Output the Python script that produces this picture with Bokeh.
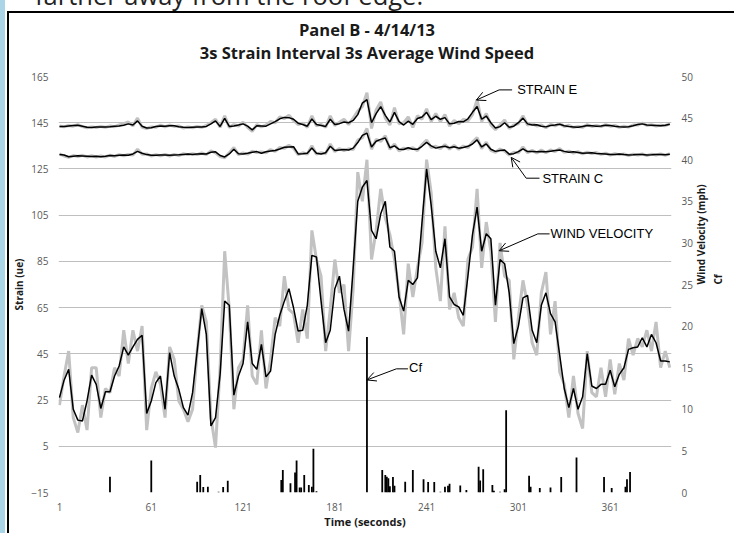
import numpy as np
from bokeh.plotting import figure
from bokeh.layouts import column
from bokeh.models import (Range1d, LinearAxis, FixedTicker, Label, Arrow, OpenHead,
                          ColumnDataSource, Div)
from bokeh.embed import file_html
from bokeh.resources import INLINE

# ---------------- data ----------------
time_s = list(range(1, 401, 3))

wind_avg = [11.4, 13.5, 14.8, 10.0, 8.7, 8.6, 11.0, 14.1, 13.0, 10.1,
            12.1, 12.1, 14.0, 15.2, 17.5, 16.5, 17.5, 18.4, 18.9, 9.5,
            11.0, 13.2, 14.0, 10.0, 16.8, 14.0, 12.4, 10.2, 9.3, 12.0,
            17.0, 22.1, 19.0, 8.0, 9.0, 14.2, 23.0, 22.5, 11.7, 14.0,
            15.5, 20.5, 15.5, 14.8, 17.8, 13.9, 14.6, 19.0, 21.3, 23.0,
            24.5, 22.2, 19.4, 19.5, 22.5, 28.5, 28.3, 23.0, 18.0, 19.5,
            24.5, 26.0, 22.0, 19.4, 27.0, 35.0, 36.7, 37.5, 31.5, 30.5,
            33.5, 35.0, 29.5, 29.0, 23.5, 21.8, 25.5, 25.0, 25.8, 32.5,
            38.9, 34.5, 29.0, 27.0, 30.5, 23.5, 22.6, 22.3, 21.3, 26.0,
            31.0, 34.3, 29.0, 31.1, 30.5, 22.5, 28.0, 27.5, 24.0, 17.9,
            20.0, 23.4, 23.7, 19.5, 18.0, 22.5, 24.0, 21.5, 20.5, 16.5,
            12.5, 10.2, 12.5, 10.0, 11.5, 16.7, 12.8, 12.5, 13.0, 13.0,
            14.7, 12.7, 14.2, 15.0, 17.2, 17.4, 17.5, 18.6, 17.5, 19.0,
            18.0, 15.8, 15.8, 15.7]

wind_raw = [10.5, 14.0, 17.0, 9.0, 7.2, 10.5, 7.5, 15.0, 15.0, 9.0,
            12.5, 12.0, 15.0, 14.0, 19.5, 15.5, 19.5, 17.0, 20.0, 7.5,
            12.5, 14.5, 13.0, 9.0, 17.5, 16.0, 11.0, 10.0, 8.5, 10.0,
            17.0, 22.5, 20.5, 9.0, 5.4, 15.0, 29.0, 22.0, 10.0, 15.0,
            16.0, 22.5, 14.0, 13.0, 19.5, 12.5, 16.0, 21.0, 20.0, 26.0,
            22.0, 21.5, 18.0, 22.0, 18.5, 31.5, 28.0, 26.0, 17.0, 22.0,
            28.0, 24.0, 25.0, 17.0, 24.5, 38.5, 35.0, 40.0, 28.0, 31.5,
            36.5, 33.0, 31.0, 28.0, 24.0, 19.0, 27.5, 23.5, 27.0, 30.0,
            40.0, 36.0, 27.0, 23.0, 32.0, 22.0, 24.0, 21.0, 20.0, 28.0,
            29.5, 36.5, 27.0, 32.5, 29.0, 20.5, 30.0, 26.0, 25.5, 16.0,
            21.0, 25.5, 22.5, 18.0, 16.5, 24.0, 26.5, 19.0, 23.0, 14.5,
            13.0, 9.0, 14.0, 9.5, 7.7, 17.0, 12.0, 11.5, 15.0, 11.5,
            16.0, 11.8, 15.5, 13.5, 18.5, 16.5, 18.5, 17.5, 19.5, 17.0,
            20.5, 15.0, 17.0, 15.0]

strain_e_avg = [143.4, 143.4, 143.6, 143.8, 143.9, 143.5, 143.0, 142.9, 143.1, 143.2,
                143.2, 143.3, 143.5, 143.6, 143.9, 144.5, 144.0, 145.8, 143.5, 142.7,
                142.8, 143.4, 143.6, 143.5, 143.7, 143.7, 143.3, 143.0, 142.9, 143.0,
                143.1, 143.2, 143.4, 144.5, 145.8, 143.4, 146.9, 143.4, 143.6, 144.0,
                144.5, 143.5, 141.9, 143.7, 143.6, 143.5, 144.5, 145.5, 146.7, 147.3,
                147.2, 146.5, 144.8, 144.2, 143.5, 146.6, 144.2, 143.8, 143.4, 146.5,
                144.2, 144.6, 145.3, 145.0, 146.0, 148.5, 153.5, 155.0, 145.0, 148.9,
                152.0, 148.2, 145.3, 149.5, 145.5, 144.0, 145.7, 144.3, 146.8, 147.5,
                149.5, 146.3, 147.8, 146.5, 147.2, 144.5, 144.8, 145.5, 145.4, 146.7,
                149.5, 152.0, 146.5, 147.9, 145.0, 142.7, 143.3, 145.0, 143.0, 143.5,
                145.0, 147.0, 144.5, 144.0, 144.1, 143.5, 143.2, 143.8, 144.0, 144.3,
                143.7, 143.4, 143.2, 143.0, 143.4, 143.8, 143.7, 143.5, 143.6, 143.9,
                143.8, 143.5, 143.3, 143.2, 143.3, 143.7, 144.2, 144.5, 144.0, 143.9,
                143.8, 143.7, 143.9, 144.3]

strain_e_raw = [143.6, 143.2, 143.8, 143.5, 144.2, 143.3, 142.8, 143.2, 142.9, 143.4,
                143.0, 143.6, 143.3, 144.0, 144.6, 145.3, 143.6, 147.0, 143.0, 142.5,
                143.2, 143.0, 144.0, 143.2, 144.0, 143.4, 143.6, 142.7, 143.2, 142.8,
                143.4, 143.0, 143.8, 145.0, 146.5, 143.0, 148.0, 143.0, 144.2, 143.6,
                145.2, 143.0, 141.2, 144.2, 143.2, 144.0, 145.5, 145.0, 147.5, 146.8,
                148.2, 146.0, 144.2, 144.8, 143.0, 148.0, 143.6, 144.3, 143.0, 148.0,
                143.8, 145.2, 146.5, 144.2, 147.0, 150.0, 152.0, 158.0, 142.5, 150.5,
                154.0, 147.0, 144.0, 151.5, 144.5, 145.0, 147.5, 143.0, 148.0, 146.5,
                151.0, 145.5, 149.0, 145.5, 148.5, 143.5, 146.0, 144.5, 146.5, 145.8,
                148.5, 155.0, 145.5, 149.0, 144.0, 142.0, 144.0, 146.2, 142.5, 144.0,
                144.5, 148.0, 144.0, 144.6, 143.6, 144.0, 142.8, 144.3, 143.6, 144.8,
                143.3, 143.9, 142.9, 143.4, 143.0, 144.2, 143.4, 143.8, 143.3, 144.2,
                143.5, 143.8, 143.0, 143.5, 143.1, 144.0, 144.0, 144.8, 143.8, 144.1,
                143.6, 143.9, 143.7, 144.5]

strain_c_avg = [131.2, 131.0, 130.3, 130.5, 130.7, 130.6, 130.5, 130.4, 130.5, 130.3,
                130.5, 130.8, 130.7, 130.9, 131.0, 130.9, 131.5, 132.6, 131.8, 131.2,
                130.9, 130.9, 131.0, 131.0, 130.9, 131.0, 131.1, 131.3, 131.5, 131.3,
                131.5, 131.6, 131.5, 132.2, 132.4, 130.8, 130.2, 131.5, 133.5, 131.6,
                131.5, 131.8, 132.2, 132.5, 131.8, 132.4, 132.8, 133.0, 133.6, 134.4,
                134.5, 134.6, 131.5, 131.6, 131.8, 134.1, 131.8, 131.5, 132.0, 134.8,
                133.0, 133.2, 133.4, 133.2, 134.0, 136.4, 139.5, 140.5, 134.5, 137.0,
                137.8, 138.4, 134.2, 135.0, 133.5, 133.4, 134.2, 133.5, 133.5, 134.8,
                136.5, 135.0, 134.0, 134.5, 134.8, 134.2, 134.6, 134.0, 134.3, 134.8,
                135.8, 137.6, 134.5, 135.8, 133.5, 132.6, 133.0, 133.2, 131.4, 131.6,
                132.5, 133.7, 132.5, 132.6, 132.4, 132.6, 132.4, 132.7, 133.0, 133.2,
                132.6, 132.2, 132.4, 132.1, 131.8, 131.9, 132.0, 131.7, 131.6, 131.5,
                131.2, 131.3, 131.5, 131.2, 131.0, 131.1, 131.3, 131.2, 131.0, 131.1,
                131.3, 131.2, 131.1, 131.4]

strain_c_raw = [131.5, 130.6, 130.0, 130.8, 130.4, 130.9, 130.2, 130.7, 130.2, 130.6,
                130.2, 131.0, 130.4, 131.2, 130.7, 131.3, 131.0, 133.5, 131.4, 131.5,
                130.6, 131.2, 130.7, 131.3, 130.6, 131.3, 130.8, 131.6, 131.2, 131.6,
                131.2, 131.9, 131.2, 132.8, 132.0, 130.4, 129.8, 132.0, 134.3, 131.2,
                131.9, 131.4, 132.7, 132.1, 132.3, 132.0, 133.4, 132.6, 134.3, 133.9,
                135.2, 134.0, 131.2, 132.0, 131.4, 135.0, 131.4, 132.0, 131.6, 135.8,
                132.5, 133.8, 132.9, 133.7, 133.4, 137.5, 138.5, 142.5, 133.5, 137.8,
                136.9, 139.4, 133.5, 135.8, 132.8, 134.0, 133.6, 134.2, 132.9, 135.5,
                137.5, 134.3, 134.8, 133.8, 135.5, 133.6, 135.2, 133.5, 134.9, 134.2,
                136.6, 138.6, 133.8, 136.6, 133.0, 132.2, 133.6, 132.7, 131.0, 132.2,
                132.0, 134.5, 132.0, 133.1, 131.9, 133.2, 132.0, 133.2, 132.5, 133.8,
                132.2, 132.7, 131.9, 132.5, 131.5, 132.3, 131.7, 132.1, 131.3, 131.8,
                131.0, 131.6, 131.2, 131.5, 130.8, 131.4, 131.0, 131.5, 130.8, 131.4,
                131.0, 131.5, 130.9, 131.6]

cf_time = [34, 61, 91, 93, 95, 98, 105, 108, 111,
           146, 147, 152, 155, 156, 158, 159, 161, 164, 166,
           167, 169, 202, 212, 214, 215, 216, 217, 219, 220,
           227, 232, 239, 242, 246, 250, 253, 255, 256, 263,
           267, 275, 276, 278, 284, 285, 289, 292, 293, 308,
           309, 315, 322, 329, 339, 357, 362, 371, 372, 374]
cf_value = [1.9, 3.85, 1.3, 2.1, 0.65, 0.7, 0.1, 0.65, 1.4,
            1.5, 2.7, 1.1, 2.4, 3.85, 0.6, 0.6, 2.1, 0.9, 0.7,
            5.25, 0.15, 18.7, 2.7, 2.1, 1.9, 1.7, 0.75, 1.85, 0.8,
            1.3, 2.7, 1.6, 1.25, 1.25, 0.1, 0.7, 0.8, 1.05, 0.85,
            0.3, 3.1, 1.45, 2.8, 0.9, 0.2, 0.1, 0.4, 9.9, 2.0,
            0.7, 0.55, 0.6, 1.85, 4.2, 1.85, 0.55, 0.7, 1.6, 2.45]

x_ticks = [1, 61, 121, 181, 241, 301, 361]
strain_ticks = [-15, 5, 25, 45, 65, 85, 105, 125, 145, 165]
wind_ticks = [0, 5, 10, 15, 20, 25, 30, 35, 40, 45, 50]

title_text = "Panel B - 4/14/13"
subtitle_text = "3s Strain Interval 3s Average Wind Speed"
top_text = "farther away from the roof edge."

# ---------------- figure ----------------
p = figure(width=725, height=466, output_backend="svg", toolbar_location=None,
           x_range=Range1d(0.35, 401.1), y_range=Range1d(-15, 165),
           min_border_left=49, min_border_right=62, min_border_top=9, min_border_bottom=41)
p.margin = (0, 0, 0, 9)
p.extra_y_ranges = {"wind": Range1d(0, 50)}
p.outline_line_color = None
p.background_fill_color = "white"
p.border_fill_color = "white"

tick_font = "Open Sans"
tick_color = "#595959"
title_color = "#1a1a1a"

p.xaxis.ticker = FixedTicker(ticks=x_ticks)
p.yaxis.ticker = FixedTicker(ticks=strain_ticks)
wind_axis = LinearAxis(y_range_name="wind", ticker=FixedTicker(ticks=wind_ticks))
p.add_layout(wind_axis, "right")
cf_axis = LinearAxis(y_range_name="wind", ticker=FixedTicker(ticks=[]))
p.add_layout(cf_axis, "right")

for ax in [p.xaxis[0], p.yaxis[0], wind_axis, cf_axis]:
    ax.axis_line_color = None
    ax.major_tick_line_color = None
    ax.minor_tick_line_color = None
    ax.major_tick_out = 0
    ax.major_tick_in = 0
    ax.minor_tick_out = 0
    ax.minor_tick_in = 0
    ax.major_label_text_font = tick_font
    ax.major_label_text_font_size = "10px"
    ax.major_label_text_color = tick_color
    ax.axis_label_text_font = tick_font
    ax.axis_label_text_font_style = "bold"
    ax.axis_label_text_color = title_color
p.xaxis.major_label_standoff = 10
p.yaxis[0].major_label_standoff = 10
wind_axis.major_label_standoff = 10
cf_axis.major_label_standoff = 0

p.xaxis.axis_label = "Time (seconds)"
p.xaxis.axis_label_text_font_size = "11px"
p.xaxis.axis_label_standoff = 0

p.yaxis[0].axis_label = "Strain (ue)"
p.yaxis[0].axis_label_text_font_size = "10px"
p.yaxis[0].axis_label_standoff = 2

wind_axis.axis_label = "Wind Velocity (mph)"
wind_axis.axis_label_text_font_size = "10px"
wind_axis.axis_label_standoff = 5
cf_axis.axis_label = "Cf"
cf_axis.axis_label_text_font_size = "10px"
cf_axis.axis_label_standoff = 0
for ax in [wind_axis, cf_axis]:
    try:
        ax.axis_label_orientation = np.pi / 2
    except Exception:
        pass

p.xgrid.visible = False
p.ygrid.ticker = FixedTicker(ticks=strain_ticks)
p.ygrid.grid_line_color = "#bfbfbf"
p.ygrid.grid_line_width = 1

raw_color = "#c2c2c2"
p.line(time_s, wind_raw, y_range_name="wind", line_color=raw_color, line_width=3)
p.line(time_s, strain_e_raw, line_color=raw_color, line_width=3)
p.line(time_s, strain_c_raw, line_color=raw_color, line_width=3)
p.line(time_s, wind_avg, y_range_name="wind", line_color="black", line_width=1.5)
p.line(time_s, strain_e_avg, line_color="black", line_width=1.5)
p.line(time_s, strain_c_avg, line_color="black", line_width=1.5)

cf_src = ColumnDataSource(dict(t=cf_time, v=cf_value, base=[0] * len(cf_time)))
p.segment(x0="t", y0="base", x1="t", y1="v", source=cf_src, y_range_name="wind",
          line_color="black", line_width=1.8)

# ---------------- call-outs ----------------
def callout(text, tip, bend, end, tx, ty):
    p.line([end[0], bend[0]], [end[1], bend[1]], line_color="black", line_width=1)
    p.add_layout(Arrow(end=OpenHead(size=9, line_width=1, line_color="black"),
                       x_start=bend[0], y_start=bend[1], x_end=tip[0], y_end=tip[1],
                       line_color="black", line_width=1))
    p.add_layout(Label(x=tx, y=ty, text=text, text_font="Liberation Sans",
                       text_font_size="13px", text_baseline="middle", text_align="left",
                       text_color="black"))

callout("STRAIN E", (273.5, 154.8), (288.4, 159.2), (296.9, 159.2), 300.2, 159.2)
callout("STRAIN C", (296.3, 130.0), (306.1, 121.0), (314.8, 121.0), 316.7, 120.8)
callout("WIND VELOCITY", (288.4, 89.6), (313.7, 96.9), (321.4, 96.9), 322.0, 97.1)
callout("Cf", (202.0, 33.7), (221.2, 38.5), (228.8, 38.5), 229.5, 39.0)

# ---------------- header (titles, frame border, clipped slide text) ----------------
header_html = (
    '<div style="position:relative; width:734px; height:67px; overflow:hidden;">'
    '<div style="position:absolute; left:5px; top:0px; width:4px; height:11px; background:#ffffff;"></div>'
    '<div style="position:absolute; left:7px; top:11px; width:727px; height:2px; background:#000000;"></div>'
    '<div style="position:absolute; left:35px; top:-17px; font-family:\'Open Sans\'; font-size:25.5px; '
    'line-height:25.5px; white-space:nowrap; color:#222222;">' + top_text + '</div>'
    '<div style="position:absolute; left:0px; top:20px; width:734px; text-align:center; '
    'font-family:\'Open Sans\'; font-weight:bold; font-size:16.5px; line-height:20px; '
    'white-space:nowrap; color:#1a1a1a;">' + title_text + '</div>'
    '<div style="position:absolute; left:0px; top:43px; width:734px; text-align:center; '
    'font-family:\'Open Sans\'; font-weight:bold; font-size:16.5px; line-height:20px; '
    'white-space:nowrap; color:#1a1a1a;">' + subtitle_text + '</div>'
    '</div>'
)
header = Div(text=header_html, width=734, height=67, margin=(0, 0, 0, 0),
             styles={"overflow": "hidden"})

layout = column(header, p, spacing=0,
                styles={"background": "linear-gradient(to right, #a9d5e6 0px 5px, #ffffff 5px 7px, "
                                      "#000000 7px 9px, #ffffff 9px)"})

open("out.html", "w").write(file_html(layout, INLINE))
